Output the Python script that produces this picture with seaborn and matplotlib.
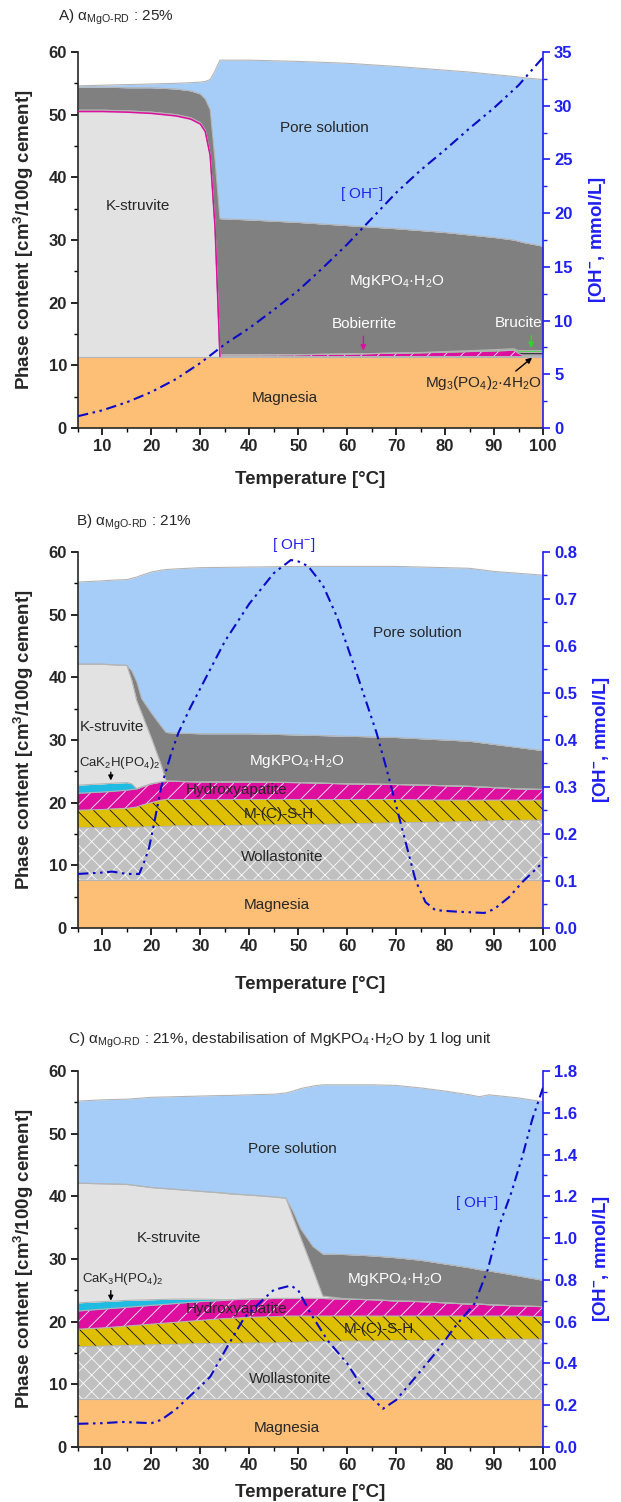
import numpy as np
import matplotlib
matplotlib.use("Agg")
import matplotlib.pyplot as plt
from matplotlib.ticker import MultipleLocator, FormatStrFormatter
import seaborn as sns

# ---------------- Panel A: alpha(MgO-RD) = 25 % ----------------
temp_a = [5, 10, 15, 20, 25, 28, 30, 31, 32, 33, 34, 40, 50, 60, 70, 75, 80, 85, 90, 94, 95, 96, 100]
magnesia_a = [11.4] * 23
kstruvite_a = [39.1, 39.1, 39.0, 38.8, 38.4, 37.9, 37.1, 35.9, 32.1, 20.6, 0, 0, 0, 0, 0, 0, 0, 0, 0, 0, 0, 0, 0]
bobierrite_a = [0.2, 0.2, 0.2, 0.2, 0.2, 0.2, 0.2, 0.2, 0.2, 0.2, 0.25, 0.25, 0.3, 0.4, 0.55, 0.6, 0.7, 0.8, 0.9, 1.0, 0.5, 0.15, 0.15]
mg3po4_a = [0, 0, 0, 0, 0, 0, 0, 0, 0, 0, 0, 0, 0, 0, 0, 0, 0, 0, 0, 0, 0.2, 0.5, 0.5]
brucite_a = [0, 0, 0, 0, 0, 0, 0, 0, 0, 0, 0, 0, 0, 0, 0, 0.05, 0.1, 0.15, 0.2, 0.25, 0.25, 0.3, 0.3]
mgkpo4_a = [3.7, 3.7, 3.7, 3.9, 4.1, 4.3, 4.6, 5.0, 7.1, 10.5, 21.75, 21.55, 21.1, 20.5, 19.85, 19.45, 19.0, 18.45, 17.9, 17.35, 17.45, 17.25, 16.65]
pore_a = [0.2, 0.3, 0.5, 0.6, 0.9, 1.3, 1.9, 2.8, 4.8, 14.3, 25.3, 25.5, 25.7, 25.9, 25.9, 25.9, 25.9, 26.0, 26.0, 26.1, 26.2, 26.3, 26.6]

oh_temp_a = [5, 10, 15, 20, 25, 30, 35, 40, 45, 50, 55, 60, 65, 70, 75, 80, 85, 90, 95, 100]
oh_a = [1.1, 1.65, 2.4, 3.35, 4.55, 6.05, 7.8, 9.3, 11.0, 12.8, 14.9, 17.1, 19.5, 21.9, 24.0, 25.9, 27.9, 29.8, 31.9, 34.5]

# ---------------- Panel B: alpha(MgO-RD) = 21 % ----------------
temp_b = [5, 10, 12, 15, 16, 17, 18, 20, 22, 23, 25, 30, 40, 50, 60, 70, 80, 85, 90, 95, 100]
magnesia_b = [7.7] * 21
wollastonite_b = [8.3, 8.3, 8.3, 8.4, 8.4, 8.4, 8.4, 8.5, 8.5, 8.5, 8.6, 8.6, 8.7, 8.8, 8.9, 9.1, 9.2, 9.3, 9.4, 9.5, 9.5]
mcsh_b = [2.8, 2.9, 3.0, 3.0, 3.1, 3.2, 3.5, 3.8, 4.2, 4.3, 4.2, 4.2, 4.1, 4.0, 3.9, 3.7, 3.5, 3.4, 3.3, 3.2, 3.2]
hydroxyapatite_b = [2.7, 2.8, 2.8, 2.9, 2.9, 2.9, 2.9, 3.0, 2.9, 2.9, 2.9, 2.8, 2.8, 2.7, 2.5, 2.4, 2.3, 2.2, 2.0, 1.8, 1.7]
cak2_b = [1.3, 1.3, 1.3, 1.2, 0.9, 0, 0, 0, 0, 0, 0, 0, 0, 0, 0, 0, 0, 0, 0, 0, 0]
kstruvite_b = [19.3, 19.1, 18.9, 18.7, 16.5, 14.1, 11.8, 7.3, 2.7, 0.1, 0, 0, 0, 0, 0, 0, 0, 0, 0, 0, 0]
mgkpo4_b = [0, 0, 0, 0, 1.5, 3.0, 2.3, 4.0, 6.2, 7.7, 7.7, 7.7, 7.7, 7.6, 7.6, 7.5, 7.3, 7.2, 6.9, 6.6, 6.2]
pore_b = [13.1, 13.3, 13.5, 13.7, 14.8, 16.7, 19.7, 22.5, 24.9, 26.0, 26.2, 26.5, 26.6, 26.9, 27.1, 27.3, 27.5, 27.6, 27.6, 27.8, 28.0]

oh_temp_b = [5, 10, 12, 15, 17.5, 18.5, 19.5, 20.5, 22, 24, 25.5, 28, 30, 35, 40, 45, 48.5, 50, 52, 55, 58,
             62, 66, 68, 70, 72, 74, 76, 78, 82, 88, 90, 93, 96, 100]
oh_b = [0.115, 0.118, 0.12, 0.115, 0.115, 0.14, 0.17, 0.22, 0.30, 0.37, 0.415, 0.47, 0.51, 0.61, 0.69, 0.755,
        0.783, 0.78, 0.77, 0.73, 0.66, 0.54, 0.415, 0.34, 0.26, 0.18, 0.10, 0.055, 0.038, 0.035, 0.032, 0.04,
        0.065, 0.10, 0.14]

# ---------------- Panel C: 21 %, MgKPO4.H2O destabilised ----------------
temp_c = [5, 10, 15, 20, 25, 30, 35, 36, 40, 45, 47.5, 49, 50.5, 53, 55, 60, 65, 70, 75, 80, 85, 87, 89, 95, 100]
magnesia_c = [7.7] * 25
wollastonite_c = [8.3, 8.4, 8.5, 8.6, 8.7, 8.8, 8.8, 8.8, 8.9, 8.9, 9.0, 9.0, 9.0, 9.1, 9.1, 9.2, 9.2, 9.3, 9.3,
                  9.4, 9.4, 9.4, 9.5, 9.5, 9.5]
mcsh_c = [2.8, 2.9, 3.1, 3.3, 3.5, 3.7, 4.0, 4.0, 4.1, 4.2, 4.2, 4.2, 4.2, 4.1, 4.1, 4.0, 4.0, 3.9, 3.9, 3.8, 3.8,
          3.8, 3.7, 3.7, 3.6]
hydroxyapatite_c = [2.9, 3.0, 3.0, 3.0, 3.0, 3.0, 2.9, 3.0, 2.9, 2.9, 2.8, 2.8, 2.8, 2.8, 2.8, 2.7, 2.6, 2.4, 2.3,
                    2.1, 1.9, 1.9, 1.8, 1.6, 1.6]
cak3_c = [1.3, 1.2, 1.1, 0.9, 0.7, 0.4, 0.1, 0, 0, 0, 0, 0, 0, 0, 0, 0, 0, 0, 0, 0, 0, 0, 0, 0, 0]
kstruvite_c = [19.1, 18.8, 18.5, 17.9, 17.5, 17.2, 17.0, 16.9, 16.6, 16.2, 16.0, 12.8, 9.7, 4.6, 0.4, 0, 0, 0, 0,
               0, 0, 0, 0, 0, 0]
mgkpo4_c = [0, 0, 0, 0, 0, 0, 0, 0, 0, 0, 0, 1.0, 1.4, 3.7, 6.7, 7.1, 7.0, 6.9, 6.6, 6.2, 5.8, 5.5, 5.4, 4.8, 4.2]
pore_c = [13.1, 13.4, 13.6, 14.4, 14.8, 15.2, 15.6, 15.7, 16.0, 16.4, 16.8, 19.3, 22.4, 25.6, 27.0, 27.1, 27.3,
          27.5, 27.5, 27.6, 27.6, 27.6, 28.1, 28.4, 28.5]

oh_temp_c = [5, 10, 14, 20, 22, 25, 27, 30, 32, 35.5, 39, 43, 45, 48.5, 50, 52.5, 56, 60, 63.5, 67.3, 70, 74,
             78.5, 82, 86, 88.7, 91, 93.5, 95.8, 97.8, 100]
oh_c = [0.111, 0.114, 0.12, 0.114, 0.13, 0.18, 0.225, 0.29, 0.336, 0.48, 0.62, 0.71, 0.752, 0.773, 0.75, 0.64,
        0.51, 0.40, 0.27, 0.183, 0.225, 0.336, 0.463, 0.575, 0.686, 0.848, 1.056, 1.216, 1.392, 1.568, 1.72]

# ---------------- styling ----------------
C_PORE = "#a6cdf8"
C_MAG = "#fdbe76"
C_KSTR = "#e2e2e2"
C_MGK = "#808080"
C_HAP = "#de0f9f"
C_MCSH = "#dfc000"
C_WOL = "#c0c0c0"
C_CAK = "#1fbbe3"
C_BRU = "#22dd22"
C_BLUE = "#1f1ff2"
C_OH = "#0a0ac8"
EDGE = "#b4b4b4"

FS_TICK = 12
FS_AXIS = 13.5
FS_LAB = 11
FS_SMALL = 9.5
FS_TITLE = 11

sns.set_theme(style="ticks")
plt.rcParams.update({
    "font.family": ["Liberation Sans", "DejaVu Sans"],
    "mathtext.fontset": "custom",
    "mathtext.rm": "Liberation Sans",
    "mathtext.it": "Liberation Sans:italic",
    "mathtext.bf": "Liberation Sans:bold",
    "hatch.linewidth": 0.55,
    "axes.linewidth": 1.2,
})

fig = plt.figure(figsize=(6.21, 15.02), dpi=100)
L, W, H = 78 / 621, 465 / 621, 376 / 1502
ax_a = fig.add_axes([L, 1 - 428 / 1502, W, H])
ax_b = fig.add_axes([L, 1 - 928 / 1502, W, H])
ax_c = fig.add_axes([L, 1 - 1447 / 1502, W, H])

SUB = "$_{\\mathregular{MgO\\text{-}RD}}$"


def draw_stack(ax, temps, layers):
    t = np.asarray(temps, float)
    base = np.zeros(len(t))
    tops = []
    for vals, face, hatch, hcol in layers:
        top = base + np.asarray(vals, float)
        ax.fill_between(t, base, top, facecolor=face, edgecolor=hcol, hatch=hatch, linewidth=0, zorder=1)
        tops.append(top)
        base = top
    for top in tops:
        ax.plot(t, top, color=EDGE, lw=0.8, zorder=2)
    return tops


def style_axes(ax, ax2, ymax2, major2, minor2, fmt2, xpad):
    ax.set_xlim(5, 100)
    ax.set_ylim(0, 60)
    ax.xaxis.set_major_locator(MultipleLocator(10))
    ax.xaxis.set_minor_locator(MultipleLocator(5))
    ax.yaxis.set_major_locator(MultipleLocator(10))
    ax.yaxis.set_minor_locator(MultipleLocator(5))
    ax.tick_params(which="major", direction="out", length=5, width=1.2, labelsize=FS_TICK, pad=3, color="black")
    ax.tick_params(which="minor", direction="out", length=3, width=1.0, color="black")
    ax.tick_params(axis="x", which="both", bottom=True, top=False)
    ax.tick_params(axis="y", which="both", left=True, right=False)
    for lab in ax.get_xticklabels() + ax.get_yticklabels():
        lab.set_fontweight("bold")
    ax.spines["top"].set_visible(False)
    ax.spines["right"].set_visible(False)
    ax.set_xlabel("Temperature [°C]", fontsize=FS_AXIS, fontweight="bold", labelpad=xpad)
    ax.set_ylabel("Phase content [cm$^\\mathbf{3}$/100g cement]", fontsize=FS_AXIS, fontweight="bold",
                  labelpad=9)

    ax2.set_ylim(0, ymax2)
    ax2.yaxis.set_major_locator(MultipleLocator(major2))
    ax2.yaxis.set_minor_locator(MultipleLocator(minor2))
    ax2.yaxis.set_major_formatter(FormatStrFormatter(fmt2))
    ax2.tick_params(axis="y", which="major", direction="out", length=5, width=1.2, colors=C_BLUE,
                    labelsize=FS_TICK, pad=3)
    ax2.tick_params(axis="y", which="minor", direction="out", length=3, width=1.0, colors=C_BLUE)
    for lab in ax2.get_yticklabels():
        lab.set_fontweight("bold")
    for s in ("top", "left", "bottom"):
        ax2.spines[s].set_visible(False)
    ax2.spines["right"].set_color(C_BLUE)
    ax2.spines["right"].set_linewidth(1.2)
    ax2.set_ylabel("[OH$^{\\mathbf{-}}$, mmol/L]", fontsize=FS_AXIS, fontweight="bold", color=C_BLUE,
                   labelpad=10)
    ax2.grid(False)
    ax.grid(False)


def draw_oh(ax2, temps, vals):
    sns.lineplot(x=temps, y=vals, ax=ax2, color=C_OH, lw=1.5, zorder=5)
    ax2.lines[-1].set_linestyle((0, (5, 2.2, 1.2, 2.2, 1.2, 2.2)))


def panel_title(xpix, ypix, letter, rest):
    fig.text(xpix / 621, 1 - ypix / 1502, letter + " α" + SUB + rest, fontsize=FS_TITLE,
             va="center", ha="left")


# ---- Panel A ----
tops_a = draw_stack(ax_a, temp_a, [
    (magnesia_a, C_MAG, None, C_MAG),
    (kstruvite_a, C_KSTR, None, C_KSTR),
    (bobierrite_a, C_HAP, "//", "white"),
    (mg3po4_a, "black", "--", "white"),
    (brucite_a, C_BRU, None, C_BRU),
    (mgkpo4_a, C_MGK, None, C_MGK),
    (pore_a, C_PORE, None, C_PORE),
])
ta = np.asarray(temp_a, float)
sel = ta <= 34
ax_a.plot(ta[sel], tops_a[1][sel], color=C_HAP, lw=1.1, zorder=3)
ax_a2 = ax_a.twinx()
draw_oh(ax_a2, oh_temp_a, oh_a)
style_axes(ax_a, ax_a2, 35, 5, 2.5, "%d", 12)
panel_title(58, 17, "A)", " : 25%")

ax_a.text(55.3, 47.9, "Pore solution", fontsize=FS_LAB, ha="center", va="center")
ax_a.text(17.2, 35.4, "K-struvite", fontsize=FS_LAB, ha="center", va="center")
ax_a.text(70.2, 23.3, "MgKPO$_4$·H$_2$O", fontsize=FS_LAB, ha="center", va="center", color="white")
ax_a.text(47.3, 4.8, "Magnesia", fontsize=FS_LAB, ha="center", va="center")
ax_a.text(63.5, 16.6, "Bobierrite", fontsize=FS_LAB, ha="center", va="center", color="white")
ax_a.text(99.8, 16.8, "Brucite", fontsize=FS_LAB, ha="right", va="center", color="white")
ax_a.text(99.8, 7.2, "Mg$_3$(PO$_4$)$_2$·4H$_2$O", fontsize=FS_LAB, ha="right", va="center")
ax_a.annotate("", xy=(63.3, 11.9), xytext=(63.3, 15.1),
              arrowprops=dict(arrowstyle="-|>", color=C_HAP, lw=1.0, mutation_scale=8))
ax_a.annotate("", xy=(97.6, 12.3), xytext=(97.6, 15.2),
              arrowprops=dict(arrowstyle="-|>", color=C_BRU, lw=1.0, mutation_scale=8))
ax_a.annotate("", xy=(98.2, 11.5), xytext=(94.0, 8.8),
              arrowprops=dict(arrowstyle="-|>", color="black", lw=1.0, mutation_scale=8))
ax_a2.text(62.9, 37.4 * 35 / 60, "[ OH$^{-}$]", fontsize=FS_LAB, ha="center", va="center", color=C_BLUE)

# ---- Panel B ----
draw_stack(ax_b, temp_b, [
    (magnesia_b, C_MAG, None, C_MAG),
    (wollastonite_b, C_WOL, "xx", "white"),
    (mcsh_b, C_MCSH, "\\\\", "black"),
    (hydroxyapatite_b, C_HAP, "//", "white"),
    (cak2_b, C_CAK, None, C_CAK),
    (kstruvite_b, C_KSTR, None, C_KSTR),
    (mgkpo4_b, C_MGK, None, C_MGK),
    (pore_b, C_PORE, None, C_PORE),
])
ax_b2 = ax_b.twinx()
draw_oh(ax_b2, oh_temp_b, oh_b)
style_axes(ax_b, ax_b2, 0.8, 0.1, 0.05, "%.1f", 16)
panel_title(76, 522, "B)", " : 21%")

ax_b.text(74.4, 47.1, "Pore solution", fontsize=FS_LAB, ha="center", va="center")
ax_b.text(12.0, 32.1, "K-struvite", fontsize=FS_LAB, ha="center", va="center")
ax_b.text(49.7, 26.6, "MgKPO$_4$·H$_2$O", fontsize=FS_LAB, ha="center", va="center", color="white")
ax_b.text(37.3, 22.1, "Hydroxyapatite", fontsize=FS_LAB, ha="center", va="center")
ax_b.text(46.0, 18.2, "M-(C)-S-H", fontsize=FS_LAB, ha="center", va="center")
ax_b.text(46.8, 11.4, "Wollastonite", fontsize=FS_LAB, ha="center", va="center")
ax_b.text(45.7, 3.6, "Magnesia", fontsize=FS_LAB, ha="center", va="center")
ax_b.text(13.6, 26.4, "CaK$_2$H(PO$_4$)$_2$", fontsize=FS_SMALL, ha="center", va="center")
ax_b.annotate("", xy=(11.7, 23.1), xytext=(11.7, 25.3),
              arrowprops=dict(arrowstyle="-|>", color="black", lw=1.0, mutation_scale=7))
ax_b2.text(49.0, 0.815, "[ OH$^{-}$]", fontsize=FS_LAB, ha="center", va="center", color=C_BLUE,
           clip_on=False)

# ---- Panel C ----
draw_stack(ax_c, temp_c, [
    (magnesia_c, C_MAG, None, C_MAG),
    (wollastonite_c, C_WOL, "xx", "white"),
    (mcsh_c, C_MCSH, "\\\\", "black"),
    (hydroxyapatite_c, C_HAP, "//", "white"),
    (cak3_c, C_CAK, None, C_CAK),
    (kstruvite_c, C_KSTR, None, C_KSTR),
    (mgkpo4_c, C_MGK, None, C_MGK),
    (pore_c, C_PORE, None, C_PORE),
])
ax_c2 = ax_c.twinx()
draw_oh(ax_c2, oh_temp_c, oh_c)
style_axes(ax_c, ax_c2, 1.8, 0.2, 0.1, "%.1f", 8)
panel_title(68, 1040, "C)", " : 21%, destabilisation of MgKPO$_4$·H$_2$O by 1 log unit")

ax_c.text(48.8, 47.5, "Pore solution", fontsize=FS_LAB, ha="center", va="center")
ax_c.text(23.6, 33.4, "K-struvite", fontsize=FS_LAB, ha="center", va="center")
ax_c.text(69.8, 26.8, "MgKPO$_4$·H$_2$O", fontsize=FS_LAB, ha="center", va="center", color="white")
ax_c.text(37.3, 22.0, "Hydroxyapatite", fontsize=FS_LAB, ha="center", va="center")
ax_c.text(66.5, 18.8, "M-(C)-S-H", fontsize=FS_LAB, ha="center", va="center")
ax_c.text(48.3, 10.8, "Wollastonite", fontsize=FS_LAB, ha="center", va="center")
ax_c.text(47.7, 3.0, "Magnesia", fontsize=FS_LAB, ha="center", va="center")
ax_c.text(14.2, 26.8, "CaK$_3$H(PO$_4$)$_2$", fontsize=FS_SMALL, ha="center", va="center")
ax_c.annotate("", xy=(11.7, 22.9), xytext=(11.7, 25.4),
              arrowprops=dict(arrowstyle="-|>", color="black", lw=1.0, mutation_scale=7))
ax_c2.text(86.4, 39.0 * 1.8 / 60, "[ OH$^{-}$]", fontsize=FS_LAB, ha="center", va="center", color=C_BLUE)

fig.savefig("out.png", dpi=100)
